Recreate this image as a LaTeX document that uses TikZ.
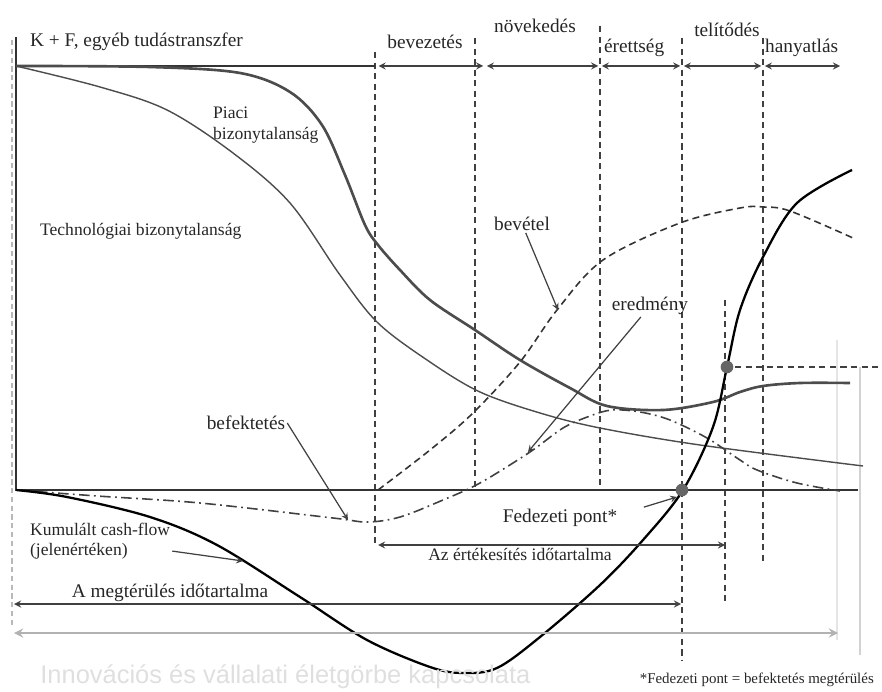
\documentclass[tikz,border=0pt]{standalone}
\usepackage{fontspec}
\setmainfont{Liberation Serif}
\newfontfamily\titlefont{Liberation Sans}
\usetikzlibrary{positioning}
\usetikzlibrary{arrows}

\tikzset{
  axisline/.style={draw=black!80,line width=1.4pt},
  phaseline/.style={draw=black!75,dash pattern=on 3.5pt off 2.5pt,line width=0.8pt},
  phasearrow/.style={draw=black!75,line width=0.8pt,<->,>=stealth},
  lbl/.style={font=\fontsize{11}{13}\selectfont,text=black!85,inner sep=1pt},
  smalllbl/.style={font=\fontsize{10}{11.5}\selectfont,text=black!85,inner sep=1pt},
  leader/.style={draw=black!75,line width=0.7pt,->,>=stealth},
  bigdot/.style={fill=black!60,draw=none},
}

\begin{document}
\begin{tikzpicture}[x=0.02cm,y=-0.02cm]
\useasboundingbox (0,0) rectangle (882,692);

% phase boundaries on the top axis
\coordinate (t0) at (16,66);
\coordinate (t1) at (375,66);
\coordinate (t2) at (485,66);
\coordinate (t3) at (600,66);
\coordinate (t4) at (682,66);
\coordinate (t5) at (763,66);
\coordinate (t6) at (840,66);

% guide lines
\draw[gray!55,dash pattern=on 3pt off 2pt,line width=0.9pt] (12,40) -- (12,628);
\draw[phaseline] (375,52) -- (375,545);
\draw[phaseline] (475,38) -- (475,490);
\draw[phaseline] (600,26) -- (600,490);
\draw[phaseline,line width=1.3pt] (682,38) -- (682,660);
\draw[phaseline] (763,38) -- (763,565);
\draw[phaseline] (725,300) -- (725,602);
\draw[phaseline] (735,367) -- (878,367);
\draw[gray!20,line width=0.8pt] (837,340) -- (837,640);
\draw[gray!35,line width=0.8pt] (860,367) -- (860,655);

% axes
\draw[axisline] (16,37) -- (16,490) -- (858,490);
\draw[axisline] (t0) -- (t1);
\draw[phasearrow] ([xshift=2pt]t1) -- ([xshift=-1pt]t2);
\draw[phasearrow] ([xshift=1pt]t2) -- ([xshift=-1pt]t3);
\draw[phasearrow] ([xshift=1pt]t3) -- ([xshift=-1pt]t4);
\draw[phasearrow] ([xshift=1pt]t4) -- ([xshift=-1pt]t5);
\draw[phasearrow] ([xshift=1pt]t5) -- (t6);

% curves
\draw[black!70,line width=1.5pt] plot[smooth,tension=0.55] coordinates {(16,66) (150,67) (240,73) (290,92) (322,125) (345,175) (365,225) (378,245) (400,270) (430,300) (475,330) (520,360) (570,388) (607,406) (663,410) (713,402) (740,392) (763,386) (800,383) (850,383)};
\draw[black!70,line width=0.8pt] plot[smooth,tension=0.55] coordinates {(16,66) (100,87) (167,110) (233,153) (290,203) (340,275) (378,323) (430,362) (480,392) (540,413) (600,428) (700,445) (863,466)};
\draw[black!80,line width=0.9pt,dash pattern=on 4pt off 2.5pt] plot[smooth,tension=0.55] coordinates {(378,490) (430,450) (473,413) (520,362) (557,310) (603,260) (680,223) (740,208) (763,207) (790,211) (853,238)};
\draw[black!75,line width=0.9pt,dash pattern=on 6pt off 2.5pt on 1pt off 2.5pt] plot[smooth,tension=0.55] coordinates {(16,490) (97,496) (200,503) (333,518) (367,522) (400,517) (443,500) (480,483) (530,452) (563,428) (590,416) (612,410) (640,412) (670,420) (707,438) (737,458) (757,470) (797,483) (840,491)};
\draw[black,line width=1.3pt] plot[smooth,tension=0.55] coordinates {(16,490) (67,497) (150,517) (217,545) (300,597) (367,640) (430,667) (463,673) (497,668) (540,637) (600,585) (643,540) (683,490) (713,427) (727,367) (740,310) (763,257) (797,203) (852,170)};

% points on the curves
\coordinate (cBev) at (558,310);
\coordinate (cEred) at (528,452);
\coordinate (cBef) at (348,520);
\coordinate (cKum) at (243,561);
\coordinate (cFed) at (677,497);
\fill[bigdot] (727,367) circle (3.6pt);
\fill[bigdot] (682,490) circle (3.6pt);

% phase labels
\node[lbl,anchor=west] (kf) at (28,42) {K + F, egyéb tudástranszfer};
\node[lbl] (bevez) at (425,42) {bevezetés};
\node[lbl] (novek) at (535,26) {növekedés};
\node[lbl,anchor=west] (erett) at (602,48) {érettség};
\node[lbl] (telit) at (727,30) {telítődés};
\node[lbl,anchor=west] (hany) at (763,48) {hanyatlás};

% curve labels
\node[smalllbl,anchor=west,align=left] (piaci) at (211,125) {Piaci\\bizonytalanság};
\node[smalllbl,anchor=west] (tech) at (38,231) {Technológiai bizonytalanság};
\node[lbl] (bevetel) at (522,224) {bevétel};
\node[lbl] (eredmeny) at (650,306) {eredmény};
\node[lbl] (befekt) at (246,423) {befektetés};
\node[smalllbl,anchor=west,align=left] (kumul) at (28,541) {Kumulált cash-flow\\(jelenértéken)};
\node[lbl] (fedezeti) at (560,518) {Fedezeti pont*};

\draw[leader] (bevetel) -- (cBev);
\draw[leader] (eredmeny) -- (cEred);
\draw[leader] (befekt.east) -- (cBef);
\draw[leader] (kumul) -- (cKum);
\draw[leader] ([xshift=14pt]fedezeti.north east) -- (cFed);

% durations
\coordinate (e1) at (378,545);
\coordinate (e2) at (725,545);
\coordinate (m1) at (14,604);
\coordinate (m2) at (681,604);
\coordinate (g1) at (14,633);
\coordinate (g2) at (838,633);
\draw[phasearrow] (e1) -- (e2);
\draw[phasearrow] (m1) -- (m2);
\draw[gray!60,line width=1.3pt,<->,>=stealth] (g1) -- (g2);
\node[smalllbl] (ertek) at (520,554) {Az értékesítés időtartalma};
\node[lbl] (megter) at (170,593) {A megtérülés időtartalma};

% footer
\node[font=\titlefont\fontsize{14.5}{16}\selectfont,text=gray!25,anchor=west,inner sep=0pt] (cim) at (40,677) {Innovációs és vállalati életgörbe kapcsolata};
\node[font=\fontsize{8.5}{10}\selectfont,text=black!85,anchor=east] (labj) at (880,680) {*Fedezeti pont = befektetés megtérülés};

\end{tikzpicture}
\end{document}
